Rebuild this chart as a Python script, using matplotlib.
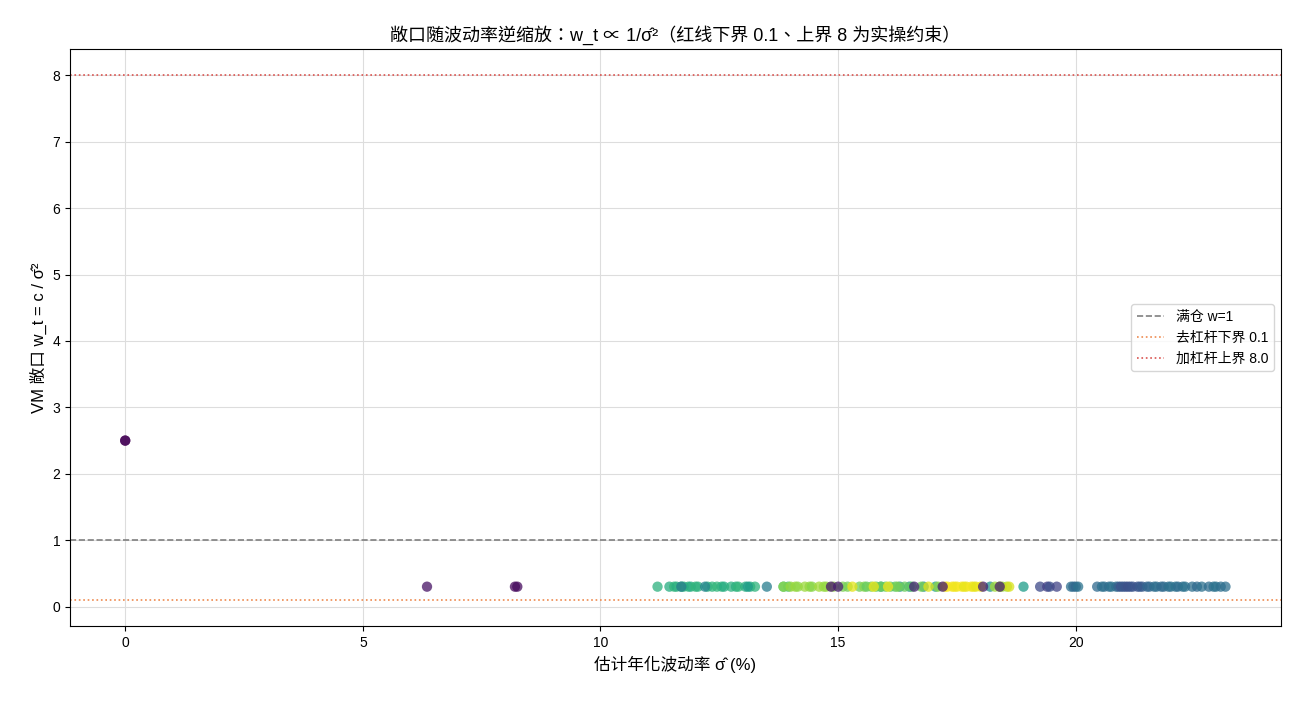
import numpy as np
import matplotlib
matplotlib.use("Agg")
import matplotlib.pyplot as plt

plt.rcParams['font.family'] = ['Liberation Sans', 'Noto Sans CJK TC', 'DejaVu Sans']
plt.rcParams['axes.unicode_minus'] = False

# estimated annualised vol (%) and time position (0..1, used for colour)
vol_early = [0.0, 0.0, 6.35, 8.2, 8.25]
w_early = [2.5, 2.5, 0.3, 0.3, 0.3]
t_early = [0.0, 0.01, 0.05, 0.02, 0.03]

vol_green = [11.2, 11.45, 11.55, 11.6, 11.7, 11.75, 11.85, 11.9, 12.0, 12.05, 12.25, 12.35,
             12.45, 12.55, 12.6, 12.75, 12.85, 12.9, 13.05, 13.15, 13.25, 13.85, 13.95]
t_green = [0.64, 0.62, 0.66, 0.63, 0.65, 0.65, 0.63, 0.62, 0.66, 0.64, 0.63, 0.65,
           0.66, 0.64, 0.62, 0.64, 0.63, 0.66, 0.63, 0.62, 0.65, 0.68, 0.70]

vol_teal = [11.7, 12.2, 13.1, 13.5, 15.9, 16.3, 16.5, 16.8, 17.05, 18.2, 18.9]
t_teal = [0.42, 0.45, 0.55, 0.42, 0.55, 0.52, 0.50, 0.48, 0.55, 0.50, 0.55]

vol_lime = [13.85, 14.0, 14.1, 14.15, 14.3, 14.4, 14.45, 14.6, 14.7, 14.75, 14.9, 15.1, 15.2,
            15.45, 15.55, 15.6, 15.7, 15.8, 15.9, 16.0, 16.1, 16.2, 16.25, 16.4, 16.55,
            16.75, 17.1, 18.3, 18.4, 18.45, 18.55]
t_lime = [0.82, 0.84, 0.85, 0.83, 0.85, 0.84, 0.82, 0.86, 0.84, 0.84, 0.83, 0.80, 0.79,
          0.78, 0.82, 0.76, 0.80, 0.74, 0.78, 0.76, 0.76, 0.74, 0.80, 0.77, 0.75,
          0.79, 0.83, 0.86, 0.88, 0.84, 0.88]

vol_yellow = [15.3, 15.75, 16.05, 16.9, 17.25, 17.3, 17.4, 17.45, 17.5, 17.6, 17.65, 17.7,
              17.8, 17.85, 17.9, 18.0, 18.6]
t_yellow = [0.96, 0.97, 0.98, 0.95, 0.97, 1.0, 0.99, 0.98, 0.98, 1.0, 0.96, 0.97,
            0.99, 0.97, 0.96, 0.98, 0.94]

vol_purple = [14.85, 15.0, 16.6, 17.2, 18.05, 18.4]
t_purple = [0.06, 0.08, 0.10, 0.07, 0.09, 0.08]

vol_blue = [19.25, 19.4, 19.45, 19.6, 19.9, 19.95, 20.0, 20.05, 20.45, 20.55, 20.6, 20.7,
            20.75, 20.85, 20.9, 20.95, 21.0, 21.05, 21.1, 21.15, 21.2, 21.3, 21.35, 21.4,
            21.5, 21.55, 21.65, 21.7, 21.8, 21.85, 21.95, 22.0, 22.1, 22.15, 22.25, 22.3,
            22.45, 22.55, 22.65, 22.8, 22.9, 22.95, 23.05, 23.15]
t_blue = [0.22, 0.18, 0.24, 0.20, 0.36, 0.34, 0.33, 0.38, 0.34, 0.37, 0.36, 0.35,
          0.38, 0.36, 0.30, 0.25, 0.27, 0.26, 0.24, 0.25, 0.26, 0.25, 0.27, 0.28,
          0.32, 0.33, 0.35, 0.36, 0.34, 0.34, 0.36, 0.37, 0.38, 0.35, 0.36, 0.38,
          0.36, 0.34, 0.37, 0.35, 0.37, 0.38, 0.36, 0.36]

band_vol = vol_green + vol_teal + vol_lime + vol_yellow + vol_purple + vol_blue
band_t = t_green + t_teal + t_lime + t_yellow + t_purple + t_blue
vol = np.array(vol_early + band_vol)
w = np.array(w_early + [0.3] * len(band_vol))
tc = np.array(t_early + band_t)

fig, ax = plt.subplots(figsize=(13, 7.02), dpi=100)
fig.subplots_adjust(left=0.054, right=0.985, top=0.930, bottom=0.108)

ax.scatter(vol, w, c=tc, cmap='viridis', vmin=0, vmax=1, s=55, alpha=0.75, edgecolors='none')
ax.axhline(1, color='gray', ls='--', lw=1.2, label='满仓 w=1')
ax.axhline(0.1, color='#ee8a4f', ls=':', lw=1.2, label='去杠杆下界 0.1')
ax.axhline(8.0, color='#d9534f', ls=':', lw=1.2, label='加杠杆上界 8.0')

ax.set_title('敞口随波动率逆缩放：w_t ∝ 1/σ̂²（红线下界 0.1、上界 8 为实操约束）', fontsize=13)
ax.set_xlabel('估计年化波动率 σ̂ (%)', fontsize=12)
ax.set_ylabel('VM 敞口 w_t = c / σ̂²', fontsize=12)
ax.grid(True, color='#dddddd', lw=0.8)
ax.set_axisbelow(True)
ax.legend(loc='center right', fontsize=10)

fig.savefig('out.png')
